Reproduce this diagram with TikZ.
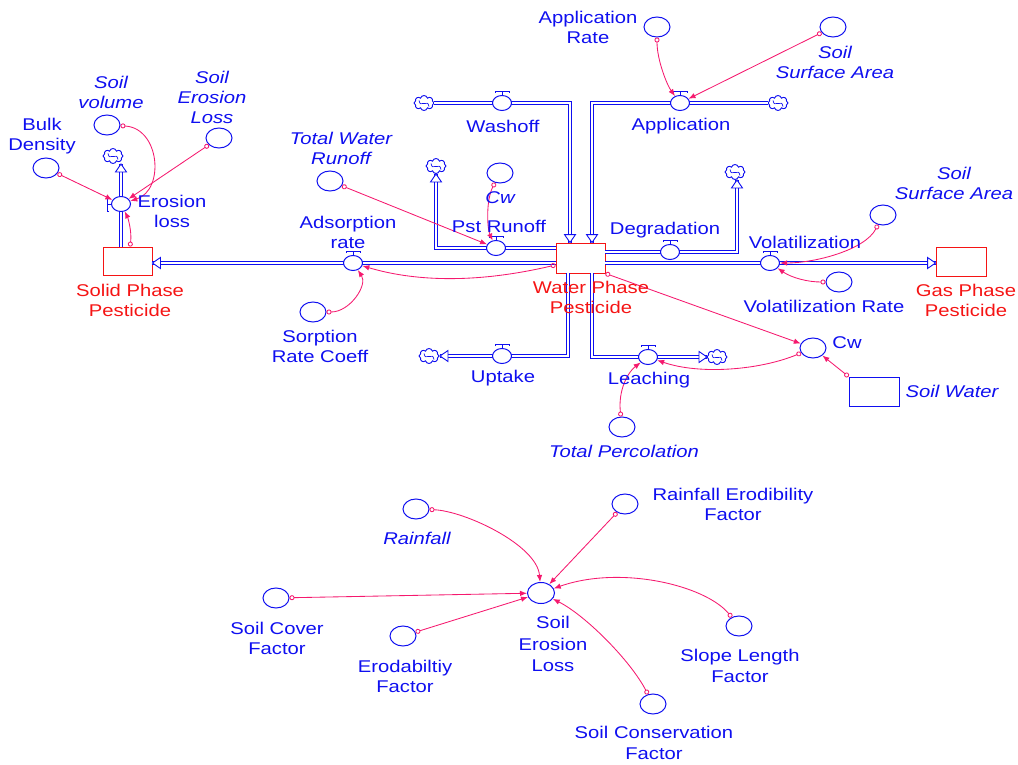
\documentclass[tikz,border=0pt]{standalone}
\usepackage{fontspec}
\setmainfont{Liberation Sans}[FakeStretch=1.19]
\usetikzlibrary{shapes.geometric,shapes.symbols,arrows.meta,calc}
\definecolor{vblue}{RGB}{15,15,240}
\definecolor{vred}{RGB}{245,20,20}
\definecolor{vlink}{RGB}{245,25,110}
\newcommand\lblfont{\fontsize{17}{20}\selectfont}
\newcommand\valvetop[1]{\draw[vblue,line width=0.9pt] (#1.north) -- ++(0,-4) ++(-7,2) -- ++(0,-2) -- ++(14,0) -- ++(0,2);}
\newcommand\valveleft[1]{\draw[vblue,line width=0.9pt] (#1.west) -- ++(-4,0) ++(2,-7) -- ++(-2,0) -- ++(0,14) -- ++(2,0);}
\newcommand\swirl[1]{\draw[vblue,line width=0.7pt] ($(#1.center)+(-5,-2.5)$) .. controls +(1,4.5) and +(-3,0) .. ($(#1.center)+(0,0.5)$) .. controls +(3,0) and +(-1,-4.5) .. ($(#1.center)+(5,3.5)$);}
\begin{document}
\begin{tikzpicture}[x=1pt,y=-1pt,
  aux/.style={ellipse, draw=vblue, line width=1pt, minimum width=26pt, minimum height=20pt, inner sep=0pt, fill=white},
  valvebody/.style={ellipse, draw=vblue, line width=1pt, minimum width=19pt, minimum height=15pt, inner sep=0pt, fill=white},
  stock/.style={rectangle, draw=vred, line width=0.9pt, minimum width=49pt, minimum height=29pt, inner sep=0pt, fill=white},
  pipe/.style={draw=vblue, double=white, double distance=2.2pt, line width=0.9pt, line join=miter},
  link/.style={draw=vlink, line width=0.85pt, {Circle[open,length=5pt,width=5pt]}-{Latex[length=7pt,width=5.5pt]}},
  cloudn/.style={cloud, cloud puffs=8, draw=vblue, line width=0.9pt, minimum width=20pt, minimum height=15pt, inner sep=0pt, aspect=1.35, fill=white},
  lbl/.style={text=vblue, font=\lblfont, align=center, inner sep=0pt},
  ilbl/.style={lbl, font=\lblfont\itshape},
  rlbl/.style={lbl, text=vred},
  fhead/.pic={\draw[vblue, line width=0.9pt, fill=white] (0,0) -- (-8,-5.5) -- (-8,5.5) -- cycle;}
]
\useasboundingbox (0,0) rectangle (1018,765);

% stocks
\node[stock, minimum height=28pt] (solid) at (127.5,261) {};
\node[stock, minimum height=30pt] (wpp) at (580.5,258) {};
\node[stock, minimum width=50pt] (gas) at (961,261.5) {};
\node[stock, draw=vblue, minimum width=50pt] (sw) at (874,391.5) {};

% corner coordinates
\coordinate (wcorner) at (570,103);
\coordinate (acorner) at (592,103);
\coordinate (pcorner) at (436,248);
\coordinate (dcorner) at (737,252);
\coordinate (ucorner) at (568,356);
\coordinate (lcorner) at (592,357);
\coordinate (ehead) at (121,164);
\coordinate (phead) at (436,174);
\coordinate (dhead) at (737,180);
\coordinate (uhead) at (440,356);
\coordinate (lhead) at (707,357);

% clouds
\node[cloudn] (cero) at (113,156) {}; \swirl{cero}
\node[cloudn] (cpst) at (436,166) {}; \swirl{cpst}
\node[cloudn] (cwash) at (424,103) {}; \swirl{cwash}
\node[cloudn] (capp) at (778,103) {}; \swirl{capp}
\node[cloudn] (cdeg) at (735,172) {}; \swirl{cdeg}
\node[cloudn] (cupt) at (429,356) {}; \swirl{cupt}
\node[cloudn] (clea) at (717,357) {}; \swirl{clea}

% valve positions
\coordinate (eroP) at (121,204);
\coordinate (adsP) at (353,263);
\coordinate (pstP) at (496,248);
\coordinate (washP) at (502,103);
\coordinate (appP) at (680,103);
\coordinate (degP) at (670,252);
\coordinate (volP) at (770,263);
\coordinate (uptP) at (502,356);
\coordinate (leachP) at (648,357);

% pipes
\draw[pipe] (wpp.west |- adsP) -- (solid.east |- adsP);
\draw[pipe] (solid.north -| eroP) -- (ehead);
\draw[pipe] (wpp.west |- pcorner) -- (pcorner) -- (phead);
\draw[pipe] (cwash) -- (wcorner) -- (wpp.north -| wcorner);
\draw[pipe] (capp) -- (acorner) -- (wpp.north -| acorner);
\draw[pipe] (wpp.east |- dcorner) -- (dcorner) -- (dhead);
\draw[pipe] (wpp.east |- volP) -- (gas.west |- volP);
\draw[pipe] (wpp.south -| ucorner) -- (ucorner) -- (uhead);
\draw[pipe] (wpp.south -| lcorner) -- (lcorner) -- (lhead);

% flow heads
\pic[rotate=180] at (solid.east |- adsP) {fhead};
\pic[rotate=90] at (ehead) {fhead};
\pic[rotate=90] at (phead) {fhead};
\pic[rotate=-90] at (wpp.north -| wcorner) {fhead};
\pic[rotate=-90] at (wpp.north -| acorner) {fhead};
\pic[rotate=90] at (dhead) {fhead};
\pic at (gas.west |- volP) {fhead};
\pic[rotate=180] at (uhead) {fhead};
\pic at (lhead) {fhead};

% valves
\node[valvebody] (ero) at (eroP) {}; \valveleft{ero}
\node[valvebody] (ads) at (adsP) {}; \valvetop{ads}
\node[valvebody] (pst) at (pstP) {}; \valvetop{pst}
\node[valvebody] (wash) at (washP) {}; \valvetop{wash}
\node[valvebody] (app) at (appP) {}; \valvetop{app}
\node[valvebody] (deg) at (degP) {}; \valvetop{deg}
\node[valvebody] (vol) at (volP) {}; \valvetop{vol}
\node[valvebody] (upt) at (uptP) {}; \valvetop{upt}
\node[valvebody] (leach) at (leachP) {}; \valvetop{leach}

% auxiliaries (top)
\node[aux] (bulk) at (46,168) {};
\node[aux] (sv) at (107,125) {};
\node[aux] (selt) at (219,138) {};
\node[aux] (tw) at (330,181) {};
\node[aux] (src) at (313,312) {};
\node[aux] (cwu) at (500,173) {};
\node[aux] (ar) at (657,27) {};
\node[aux] (ssa1) at (833,27) {};
\node[aux] (ssa2) at (883,215) {};
\node[aux] (vr) at (839,282) {};
\node[aux] (cwr) at (813,348) {};
\node[aux] (tp) at (622,427) {};
% auxiliaries (bottom)
\node[aux] (rf) at (416,509) {};
\node[aux] (ref) at (625,504) {};
\node[aux] (scf) at (276,598) {};
\node[aux] (ef) at (403,636) {};
\node[aux, minimum width=27pt, minimum height=21pt] (sel) at (541,593) {};
\node[aux] (slf) at (739,626) {};
\node[aux] (scof) at (653,704) {};

% links top
\draw[link] (bulk) -- (ero);
\draw[link] (sv) .. controls (160,128) and (165,190) .. (ero);
\draw[link] (selt) -- (ero);
\draw[link] ([xshift=2.5pt]solid.north) .. controls (132,232) and (128,218) .. (ero);
\draw[link] (tw) -- (pst);
\draw[link] (cwu) .. controls (486,200) and (487,228) .. (pst);
\draw[link] (ar) .. controls (657,60) and (667,85) .. (app);
\draw[link] (ssa1) -- (app);
\draw[link] (ssa2) .. controls (865,250) and (815,263) .. (vol);
\draw[link] (vr) .. controls (808,282) and (792,278) .. (vol);
\draw[link] ([yshift=-7pt]wpp.west) .. controls (470,285) and (410,280) .. (ads);
\draw[link] (src) .. controls (350,312) and (368,285) .. (ads);
\draw[link] (wpp.south east) -- (cwr);
\draw[link] (cwr) .. controls (760,370) and (700,375) .. (leach);
\draw[link] (sw.north west) -- (cwr);
\draw[link] (tp) .. controls (618,390) and (628,372) .. (leach);
% links bottom
\draw[link] (rf) .. controls (465,511) and (537,545) .. (sel);
\draw[link] (ref) -- (sel);
\draw[link] (scf) -- (sel);
\draw[link] (ef) -- (sel);
\draw[link] (slf) .. controls (705,585) and (620,565) .. (sel);
\draw[link] (scof) .. controls (630,660) and (585,615) .. (sel);

% labels
\node[lbl] (bulkL) at (42,136) {Bulk\\Density};
\node[ilbl] (svL) at (111,92) {Soil\\volume};
\node[ilbl] (seltL) at (212,97) {Soil\\Erosion\\Loss};
\node[lbl] (eroL) at (172,211) {Erosion\\loss};
\node[rlbl] (solidL) at (130,300) {Solid Phase\\Pesticide};
\node[ilbl] (twL) at (341,148) {Total Water\\Runoff};
\node[lbl] (adsL) at (348,232) {Adsorption\\rate};
\node[lbl] (srcL) at (320,346) {Sorption\\Rate Coeff};
\node[ilbl] (cwuL) at (500,198) {Cw};
\node[lbl] (pstL) at (499,226) {Pst Runoff};
\node[lbl] (washL) at (503,126) {Washoff};
\node[lbl] (appL) at (681,126) {Application};
\node[lbl] (arL) at (588,27) {Application\\Rate};
\node[ilbl] (ssa1L) at (835,62) {Soil\\Surface Area};
\node[lbl] (degL) at (665,230) {Degradation};
\node[lbl] (volL) at (805,242) {Volatilization};
\node[ilbl] (ssa2L) at (954,183) {Soil\\Surface Area};
\node[lbl] (vrL) at (824,306) {Volatilization Rate};
\node[rlbl] (gasL) at (966,300) {Gas Phase\\Pesticide};
\node[rlbl] (wppL) at (591,297) {Water Phase\\Pesticide};
\node[lbl] (cwrL) at (847,343) {Cw};
\node[ilbl] (swL) at (952,391) {Soil Water};
\node[lbl] (uptL) at (503,378) {Uptake};
\node[lbl] (leachL) at (649,380) {Leaching};
\node[ilbl] (tpL) at (624,451) {Total Percolation};
\node[ilbl] (rfL) at (417,538) {Rainfall};
\node[lbl] (refL) at (733,504) {Rainfall Erodibility\\Factor};
\node[lbl] (scfL) at (277,638) {Soil Cover\\Factor};
\node[lbl] (efL) at (405,676) {Erodabiltiy\\Factor};
\node[lbl, font=\fontsize{17}{21.5}\selectfont] (selL) at (553,644) {Soil\\Erosion\\Loss};
\node[lbl, font=\fontsize{17}{21}\selectfont] (slfL) at (740,666) {Slope Length\\Factor};
\node[lbl, font=\fontsize{17}{21}\selectfont] (scofL) at (654,743) {Soil Conservation\\Factor};
\end{tikzpicture}
\end{document}
